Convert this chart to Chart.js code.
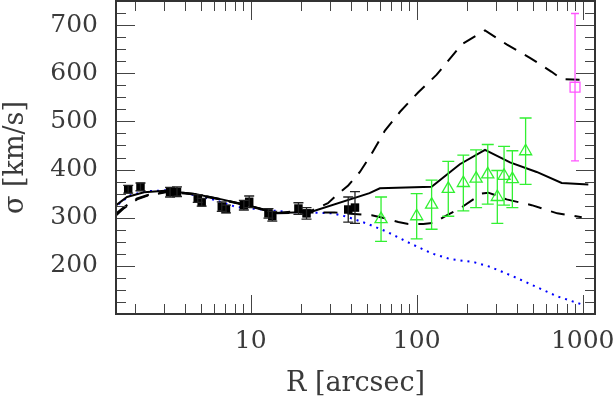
<!DOCTYPE html>
<html>
<head>
<meta charset="utf-8">
<script src="https://cdn.jsdelivr.net/npm/chart.js@4.4.0/dist/chart.umd.min.js"></script>
<style>
html, body { margin: 0; padding: 0; background: #fff; }
</style>
</head>
<body>
<canvas id="chart" width="616" height="396"></canvas>
<script>
// inner data points (black squares)
const sqR     = [1.83, 2.17, 3.27, 3.6, 4.8, 5.07, 6.7, 7.1, 9.1, 9.8, 12.8, 13.5, 19.4, 21.7, 38.7, 42.5];
const sqSigma = [359, 364, 353, 354, 340, 332, 323, 318, 326, 333, 309, 303, 319, 309, 317, 321];
const sqErr   = [8, 8, 10, 10, 8, 8, 10, 8, 10, 12, 10, 10, 12, 12, 26, 33];

// outer points (green triangles)
const triR     = [61, 100, 123, 155, 191, 228, 268, 306, 336, 377, 453];
const triSigma = [297, 303, 327, 360, 372, 381, 390, 343, 387, 380, 438];
const triErr   = [46, 47, 51, 57, 58, 60, 62, 55, 61, 59, 69];

// far point (magenta square)
const farR = [899];
const farSigma = [571];
const farErr = [153];

// models
const solidR = [1.55, 1.8, 2.28, 3.05, 4.61, 6.69, 9.25, 14.4, 23, 52, 60, 123, 182, 258, 365, 528, 747, 1081];
const solidS = [326, 343, 353, 356, 349, 338, 327, 310, 312, 351, 361, 364, 411, 441, 415, 395, 372, 369];

const dashHiR = [1.55, 1.73, 2.07, 2.4, 3.2, 4.6, 6.7, 9.25, 14.4, 23.7, 29.2, 33, 38.7, 45.5, 53.6, 64.4, 79.4, 102, 132, 151.6, 186.7, 258, 348, 481, 650, 747, 1075];
const dashHiS = [309, 322, 340, 347, 355, 349, 338, 327, 310, 316, 330, 347, 367, 395, 433, 481, 520, 560, 597, 622, 660, 689, 660, 632, 603, 588, 586];

const dashLoR = [1.55, 1.73, 2.07, 2.4, 3.2, 4.6, 6.7, 9.25, 14.4, 24.8, 32, 53.6, 64.4, 77.5, 89, 109.6, 126, 151.6, 182, 246, 270, 296, 348, 493, 703, 987];
const dashLoS = [305, 320, 338, 346, 354, 348, 337, 326, 309, 311, 311, 305, 299, 291, 287, 287, 289, 305, 319, 350, 352, 347, 338, 326, 309, 301];

const dotR = [1.6, 1.89, 2.4, 3.2, 3.85, 6.2, 8.2, 16.5, 31.4, 37.9, 50, 66, 91, 123, 159, 219, 277, 382, 528, 698, 1006];
const dotS = [328, 347, 355, 357, 353, 336, 322, 312, 309, 302, 288, 271, 247, 226, 214, 208, 198, 178, 156, 137, 119];

const xTickLabels = [10, 100, 1000];
const yTickLabels = [200, 300, 400, 500, 600, 700];

const pts = (xs, ys) => xs.map((x, i) => ({ x: x, y: ys[i] }));

const xMinor = [];
[1, 10, 100].forEach(d => { for (let m = 2; m <= 9; m++) xMinor.push(m * d); });
const yMinor = [];
for (let v = 125; v < 750; v += 25) if (v % 100 !== 0) yMinor.push(v);
const yMajor = [100, 200, 300, 400, 500, 600, 700];

// error bars drawn through the chart scales
const errorBars = {
    id: 'errorBars',
    afterDatasetsDraw(chart) {
        const { ctx, scales: { x, y } } = chart;
        ctx.save();
        chart.data.datasets.forEach(ds => {
            if (!ds.errs) return;
            ctx.strokeStyle = ds.barColor;
            ctx.lineWidth = 1.3;
            ds.data.forEach((p, i) => {
                const px = x.getPixelForValue(p.x);
                const top = y.getPixelForValue(p.y + ds.errs[i]);
                const bot = y.getPixelForValue(p.y - ds.errs[i]);
                const w = ds.capWidth;
                ctx.beginPath();
                ctx.moveTo(px, top); ctx.lineTo(px, bot);
                ctx.moveTo(px - w, top); ctx.lineTo(px + w, top);
                ctx.moveTo(px - w, bot); ctx.lineTo(px + w, bot);
                ctx.stroke();
            });
        });
        ctx.restore();
    }
};

// frame with inward ticks on all four sides
const frame = {
    id: 'frame',
    afterDraw(chart) {
        const { ctx, chartArea: a, scales: { x, y } } = chart;
        ctx.save();
        ctx.strokeStyle = '#444';
        ctx.lineWidth = 1;
        ctx.beginPath();
        const tickX = (v, len) => {
            const px = Math.round(x.getPixelForValue(v)) + 0.5;
            ctx.moveTo(px, a.bottom); ctx.lineTo(px, a.bottom - len);
            ctx.moveTo(px, a.top); ctx.lineTo(px, a.top + len);
        };
        const tickY = (v, len) => {
            const py = Math.round(y.getPixelForValue(v)) + 0.5;
            ctx.moveTo(a.left, py); ctx.lineTo(a.left + len, py);
            ctx.moveTo(a.right, py); ctx.lineTo(a.right - len, py);
        };
        xMinor.forEach(v => tickX(v, 10));
        xTickLabels.forEach(v => tickX(v, 19));
        yMinor.forEach(v => tickY(v, 10));
        yMajor.forEach(v => tickY(v, 19));
        ctx.stroke();
        ctx.lineWidth = 2;
        ctx.strokeStyle = '#333';
        ctx.strokeRect(a.left, a.top, a.right - a.left, a.bottom - a.top);
        ctx.restore();
    }
};

const tickFont = { family: 'DejaVu Serif', size: 25 };
const titleFont = { family: 'DejaVu Serif', size: 27 };

new Chart(document.getElementById('chart'), {
    type: 'scatter',
    data: {
        datasets: [
            {
                data: pts(sqR, sqSigma), errs: sqErr, barColor: '#222', capWidth: 5,
                pointStyle: 'rect', pointRadius: 6, backgroundColor: '#000', borderColor: '#000', borderWidth: 0
            },
            {
                data: pts(triR, triSigma), errs: triErr, barColor: 'rgb(50,240,50)', capWidth: 6,
                pointStyle: 'triangle', pointRadius: 7, backgroundColor: 'rgba(0,0,0,0)',
                borderColor: 'rgb(50,240,50)', borderWidth: 1.3
            },
            {
                data: pts(farR, farSigma), errs: farErr, barColor: '#ff55ff', capWidth: 4,
                pointStyle: 'rect', pointRadius: 7, backgroundColor: 'rgba(0,0,0,0)',
                borderColor: '#ff55ff', borderWidth: 1.3
            },
            {
                data: pts(solidR, solidS), showLine: true, pointRadius: 0,
                borderColor: '#000', borderWidth: 2
            },
            {
                data: pts(dashHiR, dashHiS), showLine: true, pointRadius: 0,
                borderColor: '#000', borderWidth: 2, borderDash: [14, 10]
            },
            {
                data: pts(dashLoR, dashLoS), showLine: true, pointRadius: 0,
                borderColor: '#000', borderWidth: 2, borderDash: [14, 10]
            },
            {
                data: pts(dotR, dotS), showLine: true, pointRadius: 0,
                borderColor: '#0000ff', borderWidth: 2, borderDash: [2, 5]
            }
        ]
    },
    options: {
        responsive: false,
        animation: false,
        devicePixelRatio: 1,
        layout: { autoPadding: false, padding: { left: 0, right: 21, top: 1, bottom: 0 } },
        plugins: { legend: { display: false }, tooltip: { enabled: false } },
        scales: {
            x: {
                type: 'logarithmic',
                min: 1.545,
                max: 1186,
                afterFit: s => { s.height = 82; s.paddingLeft = 0; s.paddingRight = 0; },
                afterBuildTicks: s => { s.ticks = xTickLabels.map(v => ({ value: v })); },
                grid: { display: false, drawTicks: false },
                border: { display: false },
                ticks: {
                    font: tickFont, color: '#3a3a3a', padding: 12,
                    maxRotation: 0, autoSkip: false,
                    callback: v => String(v)
                },
                title: { display: true, text: 'R [arcsec]', font: titleFont, color: '#3a3a3a', padding: { top: 0, bottom: -4 } }
            },
            y: {
                min: 100,
                max: 750,
                afterFit: s => { s.width = 116; s.paddingTop = 0; s.paddingBottom = 0; },
                afterBuildTicks: s => { s.ticks = yTickLabels.map(v => ({ value: v })); },
                grid: { display: false, drawTicks: false },
                border: { display: false },
                ticks: { font: tickFont, color: '#3a3a3a', padding: 18 },
                title: { display: true, text: 'σ [km/s]', font: titleFont, color: '#3a3a3a', padding: 0 }
            }
        }
    },
    plugins: [errorBars, frame]
});
</script>
</body>
</html>
